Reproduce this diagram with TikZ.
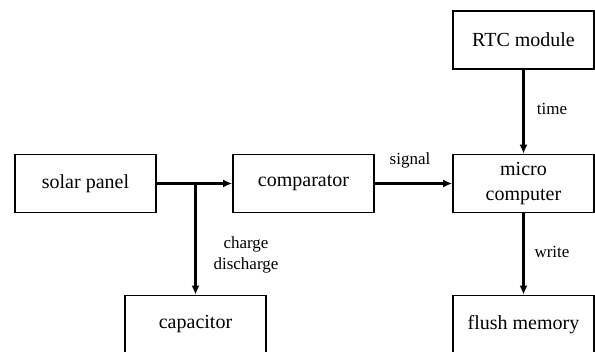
\documentclass[tikz,border=0pt]{standalone}
\usepackage{fontspec}
\setmainfont{Liberation Serif}
\usetikzlibrary{arrows.meta}
\begin{document}
\begin{tikzpicture}[x=1pt,y=-1pt,
  block/.style={draw, line width=1.6pt, minimum width=141pt, minimum height=58pt,
    inner sep=0pt, align=center, font=\rmfamily\fontsize{20}{25}\selectfont},
  flow/.style={line width=2.2pt, -{Latex[length=9pt,width=8pt]}},
  lbl/.style={inner sep=0pt, align=center, font=\rmfamily\fontsize{17}{21}\selectfont}]
  \clip (0,0) rectangle (595,352);
  \fill[white] (0,0) rectangle (595,352);

  % blocks
  \node[block] (solar) at (85.5,183.5) {solar panel};
  \node[block] (comp)  at (303.5,183.5) {comparator};
  \node[block] (mcu)   at (523.5,183.5) {micro\\computer};
  \node[block] (rtc)   at (523.5,40) {RTC module};
  \node[block] (cap)   at (195.5,324.5) {capacitor};
  \node[block] (flash) at (523.5,324.5) {flush memory};

  % branch point between the panel and the comparator
  \coordinate (j) at (cap.north |- solar.east);

  % connectors
  \draw[flow] (solar.east) -- (comp.west);
  \draw[flow] (j) -- (cap.north);
  \draw[flow] (comp.east) -- (mcu.west);
  \draw[flow] (rtc.south) -- (mcu.north);
  \draw[flow] (mcu.south) -- (flash.north);

  % labels
  \node[lbl] (lsig)  at (410,160) {signal};
  \node[lbl] (ltime) at (552,109) {time};
  \node[lbl] (lwr)   at (552,252) {write};
  \node[lbl] (lchg)  at (246,254.5) {charge\\discharge};
\end{tikzpicture}
\end{document}
